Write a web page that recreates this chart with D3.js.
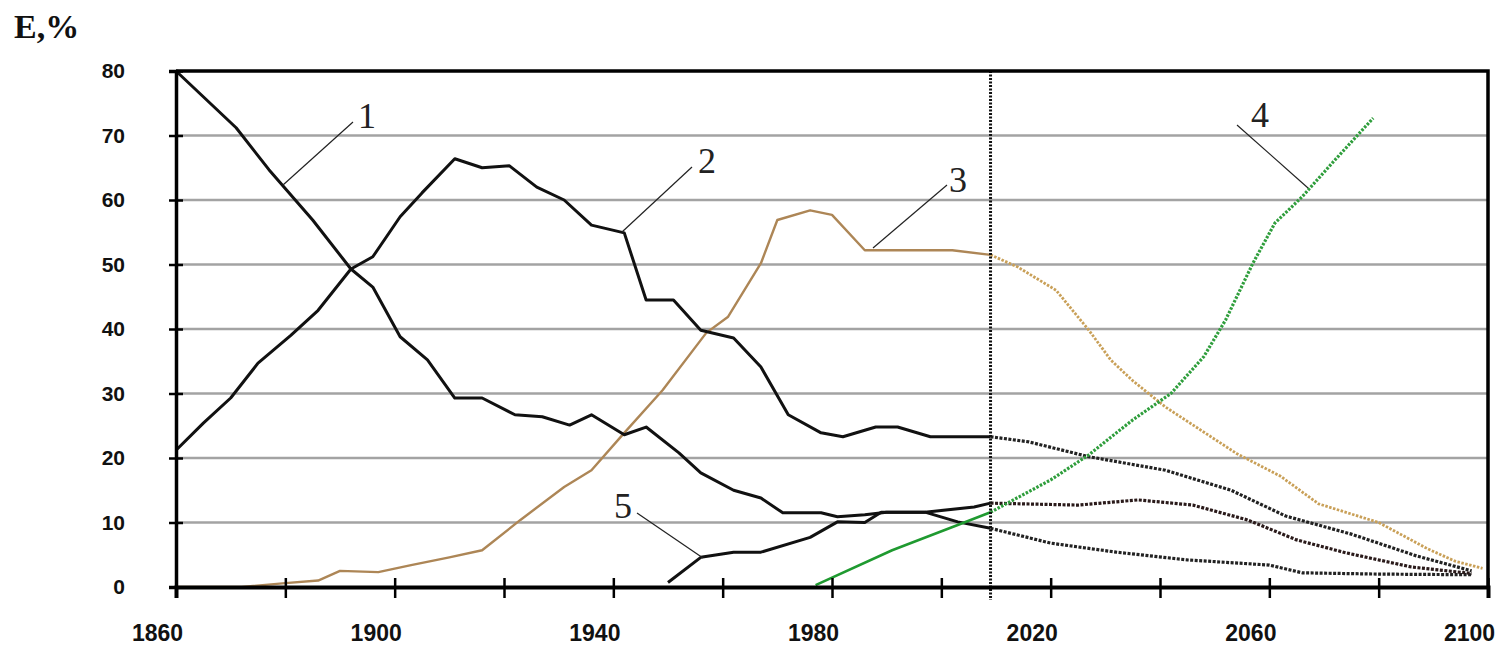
<!DOCTYPE html>
<html>
<head>
<meta charset="utf-8">
<script src="https://cdn.jsdelivr.net/npm/d3@7"></script>
<style>
  body { margin: 0; background: #fff; }
  svg { display: block; }
</style>
</head>
<body>
<svg id="chart" width="1505" height="646"></svg>
<script>
// axis ticks
const xTicks = d3.range(1860, 2101, 20);
const yTicks = d3.range(0, 81, 10);
const forecastStart = 2009;

// 1 – black, falling from 80 %
const series1Past = [[1860,80],[1871,71.2],[1877,64.7],[1885,56.9],[1892,49.3],[1896,46.5],[1901,38.8],[1906,35.2],[1911,29.3],[1916,29.3],[1922,26.7],[1927,26.4],[1932,25.1],[1936,26.7],[1942,23.6],[1946,24.8],[1952,20.8],[1956,17.7],[1962,15],[1967,13.8],[1971,11.5],[1978,11.5],[1981,10.9],[1986,11.2],[1990,11.6],[1997,11.6],[2003,10.1],[2009,9.1]];
const series1Future = [[2009,9.1],[2020,6.8],[2032,5.4],[2045,4.2],[2060,3.4],[2066,2.2],[2080,2.0],[2097,1.9]];

// 2 – black, peak ~66 % around 1911
const series2Past = [[1860,21.2],[1865,25.4],[1870,29.3],[1875,34.7],[1881,39],[1886,42.9],[1892,49.3],[1896,51.2],[1901,57.4],[1905,61.1],[1911,66.4],[1916,65],[1921,65.3],[1926,62],[1931,60],[1936,56.1],[1942,54.9],[1946,44.5],[1951,44.5],[1956,39.8],[1962,38.6],[1967,34.1],[1972,26.7],[1978,23.9],[1982,23.3],[1988,24.8],[1992,24.8],[1998,23.3],[2009,23.3]];
const series2Future = [[2009,23.3],[2016,22.5],[2027,20.2],[2041,18.1],[2053,15],[2063,11],[2075,8.2],[2087,4.8],[2094,3.2],[2097,2.5]];

// 3 – tan
const series3Past = [[1860,0],[1872,0],[1880,0.6],[1886,1],[1890,2.5],[1897,2.3],[1903,3.4],[1910,4.6],[1916,5.7],[1923,10.4],[1931,15.5],[1936,18.1],[1942,23.9],[1949,30.5],[1957,39.4],[1961,41.9],[1967,50.2],[1970,56.9],[1976,58.4],[1980,57.7],[1986,52.2],[2002,52.2],[2009,51.5]];
const series3Future = [[2009,51.5],[2014,49.6],[2021,46],[2027,39.8],[2031,35.2],[2035,32],[2041,27.9],[2054,20.7],[2062,17.2],[2069,12.9],[2080,10],[2089,5.9],[2094,4],[2099,2.9]];

// 4 – green
const series4Past = [[1977,0.3],[1991,5.7],[2003,9.6],[2009,11.6]];
const series4Future = [[2009,11.6],[2020,16.6],[2027,20.5],[2035,25.9],[2042,30],[2048,35.7],[2052,41.4],[2057,50.2],[2061,56.4],[2066,60.5],[2072,66.2],[2079,72.7]];

// 5 – black, from 1950
const series5Past = [[1950,0.7],[1956,4.6],[1962,5.4],[1967,5.4],[1976,7.7],[1981,10.1],[1986,10],[1989,11.6],[1997,11.6],[2006,12.4],[2009,13]];
const series5Future = [[2009,13],[2025,12.7],[2036,13.5],[2046,12.7],[2056,10.4],[2065,7.3],[2074,5.3],[2086,3.1],[2097,2.1]];

// curve labels: number, anchor point on the curve, text position
const labels = [
  { text: "1", from: [283, 185], to: [353, 122], at: [367, 128] },
  { text: "2", from: [622, 232], to: [692, 167], at: [707, 173] },
  { text: "3", from: [873, 248], to: [947, 185], at: [958, 192] },
  { text: "4", from: [1308, 188], to: [1237, 125], at: [1260, 127] },
  { text: "5", from: [703, 558], to: [637, 513], at: [623, 518] }
];

const svg = d3.select("#chart");

const x = d3.scaleLinear().domain([1860, 2100]).range([176, 1488]);
const y = d3.scaleLinear().domain([0, 80]).range([587, 71]);

const line = d3.line()
  .x(d => x(d[0]))
  .y(d => y(d[1]));

// grid lines
svg.append("g")
  .selectAll("line")
  .data(yTicks.filter(d => d > 0 && d < 80))
  .join("line")
  .attr("x1", x(1860))
  .attr("x2", x(2100))
  .attr("y1", d => y(d))
  .attr("y2", d => y(d))
  .attr("stroke", "#a3a3a3")
  .attr("stroke-width", 2.5);

// curves
const curves = [
  { data: series3Past, color: "#ad8656", dash: null, width: 2.4 },
  { data: series3Future, color: "#c9a058", dash: "2.5,1.5", width: 2.8 },
  { data: series1Past, color: "#111", dash: null, width: 3 },
  { data: series1Future, color: "#222", dash: "3,1.5", width: 3.2 },
  { data: series2Past, color: "#111", dash: null, width: 3 },
  { data: series2Future, color: "#222", dash: "3,1.5", width: 3.2 },
  { data: series5Past, color: "#111", dash: null, width: 3 },
  { data: series5Future, color: "#2a1a1a", dash: "3,1.5", width: 3.2 },
  { data: series4Past, color: "#1f9a30", dash: null, width: 2.6 },
  { data: series4Future, color: "#2f9e3c", dash: "2.5,1.5", width: 3.2 }
];

svg.append("g")
  .selectAll("path")
  .data(curves)
  .join("path")
  .attr("d", d => line(d.data))
  .attr("fill", "none")
  .attr("stroke", d => d.color)
  .attr("stroke-width", d => d.width)
  .attr("stroke-dasharray", d => d.dash)
  .attr("stroke-linejoin", "round");

// forecast boundary
svg.append("line")
  .attr("x1", x(forecastStart))
  .attr("x2", x(forecastStart))
  .attr("y1", y(80))
  .attr("y2", 600)
  .attr("stroke", "#111")
  .attr("stroke-width", 3)
  .attr("stroke-dasharray", "2,1.5");

// frame: top and right
svg.append("path")
  .attr("d", `M${x(1860)},${y(80)}H${x(2100)}V${y(0)}`)
  .attr("fill", "none")
  .attr("stroke", "#000")
  .attr("stroke-width", 3.5);

// y axis
const yAxis = svg.append("g")
  .attr("transform", `translate(${x(1860)},0)`)
  .call(d3.axisLeft(y).tickValues(yTicks).tickSize(7).tickPadding(44));
yAxis.select(".domain").attr("stroke-width", 3.5);
yAxis.selectAll(".tick line").attr("x1", 7).attr("stroke-width", 2.5);
yAxis.selectAll(".tick text")
  .attr("font-family", "'Liberation Sans', Arial, sans-serif")
  .attr("font-weight", "bold")
  .attr("font-size", 21)
  .attr("fill", "#111");

// x axis, labels every 40 years from 1860
const xAxis = svg.append("g")
  .attr("transform", `translate(0,${y(0)})`)
  .call(d3.axisBottom(x).tickValues(xTicks).tickSize(11)
    .tickFormat(d => (d - 1860) % 40 === 0 ? d : ""));
xAxis.select(".domain").attr("stroke-width", 4);
xAxis.selectAll(".tick line").attr("y1", -9).attr("stroke-width", 2.5);
xAxis.selectAll(".tick text")
  .attr("font-family", "'Liberation Sans', Arial, sans-serif")
  .attr("font-weight", "bold")
  .attr("font-size", 23)
  .attr("fill", "#111")
  .attr("y", 54)
  .attr("dy", 0)
  .attr("dx", -19);

// title
svg.append("text")
  .attr("x", 14)
  .attr("y", 38)
  .attr("font-family", "'Liberation Serif', 'Times New Roman', serif")
  .attr("font-weight", "bold")
  .attr("font-size", 34)
  .attr("fill", "#111")
  .text("E,%");

// curve number labels with leader lines
const lab = svg.append("g");
lab.selectAll("line")
  .data(labels)
  .join("line")
  .attr("x1", d => d.from[0])
  .attr("y1", d => d.from[1])
  .attr("x2", d => d.to[0])
  .attr("y2", d => d.to[1])
  .attr("stroke", "#222")
  .attr("stroke-width", 1.2);
lab.selectAll("text")
  .data(labels)
  .join("text")
  .attr("x", d => d.at[0])
  .attr("y", d => d.at[1])
  .attr("text-anchor", "middle")
  .attr("font-family", "'Liberation Serif', 'Times New Roman', serif")
  .attr("font-size", 36)
  .attr("fill", "#222")
  .text(d => d.text);
</script>
</body>
</html>
